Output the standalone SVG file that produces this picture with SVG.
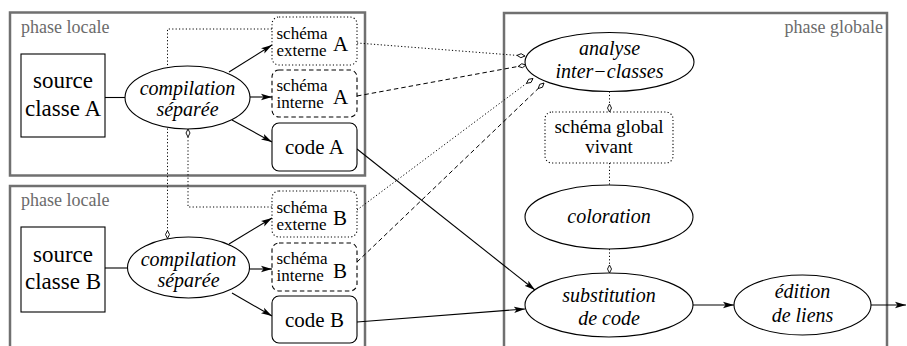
<svg xmlns="http://www.w3.org/2000/svg" width="907" height="346" viewBox="0 0 907 346" font-family="'Liberation Serif', 'DejaVu Serif', serif">
<defs>
<style>
text{font-family:'Liberation Serif','DejaVu Serif',serif;fill:#000}
.it{font-style:italic}
.lbl{fill:#6b6b6b;font-size:18px}
.phase{fill:none;stroke:#707070;stroke-width:2.5}
.node{fill:#fff;stroke:#000;stroke-width:1.1}
.dot{stroke-dasharray:1.2 2.2}
.dash{stroke-dasharray:4.5 3}
.ln{fill:none;stroke:#000;stroke-width:1.1}
.dl{fill:none;stroke:#000;stroke-width:1;stroke-dasharray:1.2 2.2}
.dsh{fill:none;stroke:#000;stroke-width:1;stroke-dasharray:4.5 3}
.big{font-size:23px}
.mid{font-size:21px}
.sm{font-size:17px}
.el{font-size:20px}
</style>
<marker id="arr" viewBox="0 -4 12 8" refX="11" refY="0" markerWidth="12" markerHeight="8" markerUnits="userSpaceOnUse" orient="auto">
<path d="M0,-3.2 L11,0 L0,3.2 L2.5,0 Z" fill="#000"/>
</marker>
<marker id="dia" viewBox="-1 -3 10 6" refX="8" refY="0" markerWidth="10" markerHeight="6" markerUnits="userSpaceOnUse" orient="auto">
<path d="M0,0 L4,-2 L8,0 L4,2 Z" fill="#fff" stroke="#000" stroke-width="0.9"/>
</marker>
</defs>
<rect width="907" height="346" fill="#fff"/>

<g id="phase-locale-A">
<rect class="phase" x="10" y="12.5" width="355" height="163"/>
<text class="lbl" x="21" y="33">phase locale</text>
</g>
<g id="phase-locale-B">
<rect class="phase" x="10" y="186" width="355" height="200"/>
<text class="lbl" x="21" y="206">phase locale</text>
</g>
<g id="phase-globale">
<rect class="phase" x="504" y="13" width="383" height="360"/>
<text class="lbl" x="883" y="33" text-anchor="end">phase globale</text>
</g>

<g id="connectors">
<line class="ln" x1="105" y1="97.5" x2="125" y2="97.5"/>
<line class="ln" x1="229" y1="72" x2="272" y2="45" marker-end="url(#arr)"/>
<line class="ln" x1="250" y1="97" x2="272" y2="97" marker-end="url(#arr)"/>
<line class="ln" x1="232" y1="120" x2="272" y2="142" marker-end="url(#arr)"/>
<line class="ln" x1="105" y1="268" x2="127.5" y2="268"/>
<line class="ln" x1="229" y1="244" x2="272" y2="218" marker-end="url(#arr)"/>
<line class="ln" x1="249.5" y1="269" x2="272" y2="269" marker-end="url(#arr)"/>
<line class="ln" x1="232" y1="293" x2="272" y2="316" marker-end="url(#arr)"/>
<path class="dl" d="M272,29 H167.5 V238.5" marker-end="url(#dia)"/>
<path class="dl" d="M272,207 H188 V129" marker-end="url(#dia)"/>
<line class="dl" x1="357" y1="43" x2="525" y2="56" marker-end="url(#dia)"/>
<line class="dsh" x1="357" y1="96" x2="526" y2="65" marker-end="url(#dia)"/>
<line class="dl" x1="357" y1="210" x2="533" y2="78.5" marker-end="url(#dia)"/>
<line class="dsh" x1="357" y1="262" x2="544" y2="83" marker-end="url(#dia)"/>
<line class="dl" x1="609.5" y1="91.5" x2="609.5" y2="112" marker-end="url(#dia)"/>
<line class="dl" x1="609.5" y1="163" x2="609.5" y2="185"/>
<line class="dl" x1="609.5" y1="249" x2="609.5" y2="273" marker-end="url(#dia)"/>
<line class="ln" x1="357" y1="149" x2="535" y2="290" marker-end="url(#arr)"/>
<line class="ln" x1="357" y1="322" x2="525" y2="309" marker-end="url(#arr)"/>
<line class="ln" x1="693" y1="305" x2="734" y2="305" marker-end="url(#arr)"/>
<line class="ln" x1="871" y1="305" x2="906" y2="305" marker-end="url(#arr)"/>
</g>

<g id="source-A">
<rect class="node" x="21" y="54" width="84" height="83"/>
<text class="big" x="63" y="88" text-anchor="middle">source</text>
<text class="big" x="63" y="116" text-anchor="middle">classe A</text>
</g>
<g id="compilation-A">
<ellipse class="node" cx="187.5" cy="97.5" rx="62.5" ry="31.5"/>
<text class="it el" x="187.5" y="95" text-anchor="middle">compilation</text>
<text class="it el" x="187.5" y="116" text-anchor="middle">séparée</text>
</g>
<g id="schema-externe-A">
<rect class="node dot" x="272" y="17" width="85" height="48" rx="7"/>
<text class="sm" x="276.5" y="39">schéma</text>
<text class="sm" x="276.5" y="56">externe</text>
<text class="mid" x="333" y="51">A</text>
</g>
<g id="schema-interne-A">
<rect class="node dash" x="272" y="70" width="85" height="47" rx="7"/>
<text class="sm" x="276.5" y="91">schéma</text>
<text class="sm" x="276.5" y="108">interne</text>
<text class="mid" x="333" y="104">A</text>
</g>
<g id="code-A">
<rect class="node" x="272" y="123" width="85" height="48" rx="7"/>
<text class="mid" x="314.5" y="154" text-anchor="middle">code A</text>
</g>

<g id="source-B">
<rect class="node" x="21" y="227" width="84" height="85"/>
<text class="big" x="63" y="262" text-anchor="middle">source</text>
<text class="big" x="63" y="289" text-anchor="middle">classe B</text>
</g>
<g id="compilation-B">
<ellipse class="node" cx="188.5" cy="267.5" rx="61" ry="30.5"/>
<text class="it el" x="188.5" y="266" text-anchor="middle">compilation</text>
<text class="it el" x="188.5" y="287" text-anchor="middle">séparée</text>
</g>
<g id="schema-externe-B">
<rect class="node dot" x="272" y="191" width="85" height="46" rx="7"/>
<text class="sm" x="276.5" y="213">schéma</text>
<text class="sm" x="276.5" y="230">externe</text>
<text class="mid" x="333" y="225">B</text>
</g>
<g id="schema-interne-B">
<rect class="node dash" x="272" y="243" width="85" height="48" rx="7"/>
<text class="sm" x="276.5" y="264">schéma</text>
<text class="sm" x="276.5" y="281">interne</text>
<text class="mid" x="333" y="278">B</text>
</g>
<g id="code-B">
<rect class="node" x="272" y="296" width="85" height="47" rx="7"/>
<text class="mid" x="314.5" y="327" text-anchor="middle">code B</text>
</g>

<g id="analyse">
<ellipse class="node" cx="609.5" cy="62" rx="84.5" ry="29.5"/>
<text class="it el" x="609.5" y="55" text-anchor="middle">analyse</text>
<text class="it el" x="609.5" y="78" text-anchor="middle">inter−classes</text>
</g>
<g id="schema-global">
<rect class="node dot" x="545" y="112" width="128" height="51" rx="7"/>
<text class="sm" x="609" y="133" text-anchor="middle" style="font-size:19px">schéma global</text>
<text class="sm" x="609" y="153" text-anchor="middle" style="font-size:19px">vivant</text>
</g>
<g id="coloration">
<ellipse class="node" cx="609" cy="217" rx="84" ry="32"/>
<text class="it el" x="609" y="223" text-anchor="middle">coloration</text>
</g>
<g id="substitution">
<ellipse class="node" cx="609" cy="305" rx="84" ry="32"/>
<text class="it el" x="609" y="302" text-anchor="middle">substitution</text>
<text class="it el" x="609" y="325" text-anchor="middle">de code</text>
</g>
<g id="edition">
<ellipse class="node" cx="802.5" cy="305" rx="68.5" ry="30"/>
<text class="it el" x="802.5" y="298" text-anchor="middle">édition</text>
<text class="it el" x="802.5" y="322" text-anchor="middle">de liens</text>
</g>
</svg>
